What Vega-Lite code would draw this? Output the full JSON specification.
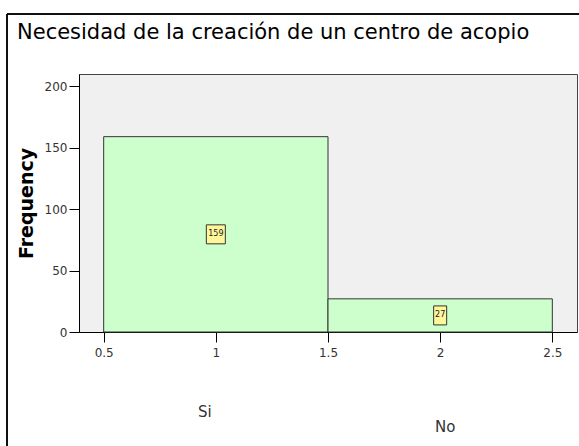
{
  "$schema": "https://vega.github.io/schema/vega-lite/v6.json",
  "width": 498,
  "height": 258,
  "autosize": "none",
  "padding": {"left": 79, "top": 74, "right": 2, "bottom": 114},
  "background": "white",
  "title": {
    "text": "Necesidad de la creación de un centro de acopio",
    "anchor": "start",
    "frame": "group",
    "dx": -62,
    "dy": 21,
    "offset": -26,
    "baseline": "alphabetic",
    "font": "DejaVu Sans",
    "fontSize": 21,
    "fontWeight": "normal",
    "color": "#000000"
  },
  "config": {
    "view": {"fill": "#f0f0f0", "stroke": "#444444", "strokeWidth": 1},
    "font": "DejaVu Sans"
  },
  "data": {
    "values": [
      {"category": "Si", "code": 1, "bin_start": 0.5, "bin_end": 1.5, "count": 159},
      {"category": "No", "code": 2, "bin_start": 1.5, "bin_end": 2.5, "count": 27}
    ]
  },
  "resolve": {"scale": {"y": "independent"}, "axis": {"y": "independent"}},
  "layer": [
    {
      "mark": {"type": "rect", "fill": "#ccffcc", "stroke": "#333333", "strokeWidth": 1},
      "encoding": {
        "x": {
          "field": "bin_start",
          "type": "quantitative",
          "scale": {"domain": [0.39, 2.61], "nice": false, "zero": false},
          "axis": {
            "values": [0.5, 1, 1.5, 2, 2.5],
            "format": "~g",
            "title": null,
            "grid": false,
            "tickSize": 10,
            "labelPadding": 5,
            "labelFont": "DejaVu Sans",
            "labelFontSize": 12,
            "labelColor": "#333333",
            "domainColor": "#000000",
            "tickColor": "#000000",
            "labelFlush": false
          }
        },
        "x2": {"field": "bin_end"},
        "y": {
          "field": "count",
          "type": "quantitative",
          "scale": {"domain": [0, 210], "nice": false},
          "axis": {
            "values": [0, 50, 100, 150, 200],
            "title": "Frequency",
            "titleFont": "DejaVu Sans",
            "titleFontSize": 19,
            "titleFontWeight": "bold",
            "titleColor": "#000000",
            "titlePadding": 8,
            "grid": false,
            "tickSize": 10,
            "labelPadding": 2,
            "labelFont": "DejaVu Sans",
            "labelFontSize": 12,
            "labelColor": "#333333",
            "domainColor": "#000000",
            "tickColor": "#000000"
          }
        },
        "y2": {"datum": 0}
      }
    },
    {
      "mark": {"type": "point", "filled": true, "fill": "#fff799", "stroke": "#333333", "strokeWidth": 1, "opacity": 1, "size": 400},
      "encoding": {
        "x": {"field": "code", "type": "quantitative"},
        "y": {"field": "count", "type": "quantitative", "scale": {"domain": [0, 420], "nice": false}, "axis": null},
        "shape": {
          "field": "category",
          "type": "nominal",
          "scale": {"domain": ["Si", "No"], "range": ["M-0.95,-0.95H0.95V0.95H-0.95Z", "M-0.65,-0.95H0.65V0.95H-0.65Z"]},
          "legend": null
        }
      }
    },
    {
      "mark": {"type": "text", "font": "DejaVu Sans", "fontSize": 8, "color": "#222222", "baseline": "middle", "align": "center"},
      "encoding": {
        "x": {"field": "code", "type": "quantitative"},
        "y": {"field": "count", "type": "quantitative", "scale": {"domain": [0, 420], "nice": false}, "axis": null},
        "text": {"field": "count", "type": "quantitative"}
      }
    },
    {
      "transform": [{"filter": "datum.category === 'Si'"}],
      "mark": {"type": "text", "font": "DejaVu Sans", "fontSize": 15, "color": "#333333", "baseline": "middle", "align": "center", "dy": 80, "dx": -11},
      "encoding": {
        "x": {"field": "code", "type": "quantitative"},
        "y": {"datum": 0, "type": "quantitative", "scale": {"domain": [0, 210], "nice": false}, "axis": null},
        "text": {"field": "category", "type": "nominal"}
      }
    },
    {
      "transform": [{"filter": "datum.category === 'No'"}],
      "mark": {"type": "text", "font": "DejaVu Sans", "fontSize": 15, "color": "#333333", "baseline": "middle", "align": "center", "dy": 95, "dx": 5},
      "encoding": {
        "x": {"field": "code", "type": "quantitative"},
        "y": {"datum": 0, "type": "quantitative", "scale": {"domain": [0, 210], "nice": false}, "axis": null},
        "text": {"field": "category", "type": "nominal"}
      }
    },
    {
      "mark": {"type": "rule", "color": "#000000", "strokeWidth": 1.5},
      "encoding": {
        "x": {"datum": 0.069, "type": "quantitative"},
        "y": {"datum": 258.8, "type": "quantitative", "scale": {"domain": [0, 210], "nice": false}, "axis": null},
        "y2": {"datum": -100}
      }
    },
    {
      "mark": {"type": "rule", "color": "#000000", "strokeWidth": 1.5},
      "encoding": {
        "x": {"datum": 0.069, "type": "quantitative"},
        "x2": {"datum": 2.7},
        "y": {"datum": 258.8, "type": "quantitative", "scale": {"domain": [0, 210], "nice": false}, "axis": null}
      }
    }
  ]
}
